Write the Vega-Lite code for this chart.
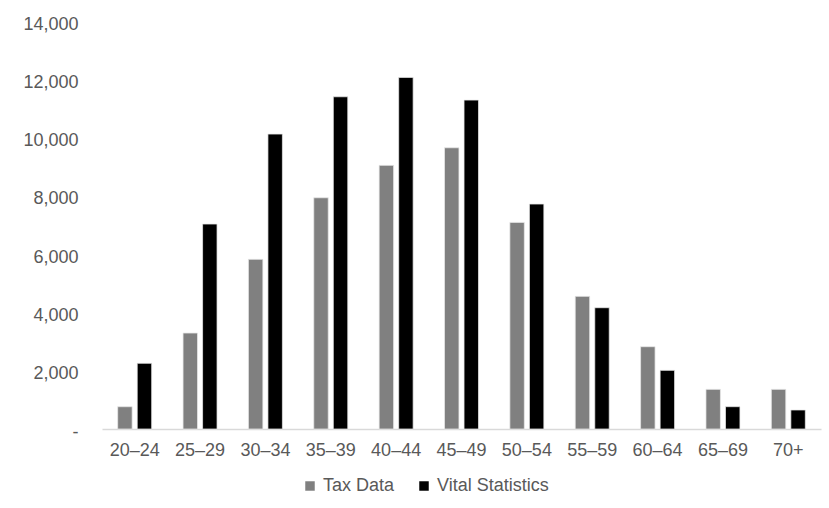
{
  "$schema": "https://vega.github.io/schema/vega-lite/v6.json",
  "width": 719,
  "height": 408,
  "autosize": {"type": "none"},
  "padding": {"left": 102, "top": 21, "right": 8, "bottom": 79},
  "background": "white",
  "config": {
    "view": {"stroke": null},
    "font": "Liberation Sans",
    "axis": {"labelFont": "Liberation Sans", "labelColor": "#595959", "labelFontSize": 18},
    "legend": {"labelFont": "Liberation Sans", "labelColor": "#595959", "labelFontSize": 18}
  },
  "data": {
    "values": [
      {"age": "20–24", "series": "Tax Data", "value": 765},
      {"age": "20–24", "series": "Vital Statistics", "value": 2254},
      {"age": "25–29", "series": "Tax Data", "value": 3293},
      {"age": "25–29", "series": "Vital Statistics", "value": 7033},
      {"age": "30–34", "series": "Tax Data", "value": 5822},
      {"age": "30–34", "series": "Vital Statistics", "value": 10120},
      {"age": "35–39", "series": "Tax Data", "value": 7935},
      {"age": "35–39", "series": "Vital Statistics", "value": 11400},
      {"age": "40–44", "series": "Tax Data", "value": 9046},
      {"age": "40–44", "series": "Vital Statistics", "value": 12065},
      {"age": "45–49", "series": "Tax Data", "value": 9650},
      {"age": "45–49", "series": "Vital Statistics", "value": 11286},
      {"age": "50–54", "series": "Tax Data", "value": 7090},
      {"age": "50–54", "series": "Vital Statistics", "value": 7719},
      {"age": "55–59", "series": "Tax Data", "value": 4551},
      {"age": "55–59", "series": "Vital Statistics", "value": 4162},
      {"age": "60–64", "series": "Tax Data", "value": 2824},
      {"age": "60–64", "series": "Vital Statistics", "value": 2013},
      {"age": "65–69", "series": "Tax Data", "value": 1361},
      {"age": "65–69", "series": "Vital Statistics", "value": 766},
      {"age": "70+", "series": "Tax Data", "value": 1361},
      {"age": "70+", "series": "Vital Statistics", "value": 652}
    ]
  },
  "mark": {"type": "bar", "stroke": "#e8e8e8", "strokeWidth": 0.75},
  "encoding": {
    "x": {
      "field": "age",
      "type": "nominal",
      "sort": null,
      "scale": {"paddingInner": 0.48, "paddingOuter": 0.24},
      "axis": {
        "title": null,
        "labelAngle": 0,
        "ticks": false,
        "domainColor": "#d9d9d9",
        "domainWidth": 1.5,
        "labelPadding": 12
      }
    },
    "xOffset": {
      "field": "series",
      "type": "nominal",
      "scale": {"paddingInner": 0.26, "paddingOuter": 0}
    },
    "y": {
      "field": "value",
      "type": "quantitative",
      "scale": {"domain": [0, 14000], "nice": false},
      "axis": {
        "title": null,
        "values": [0, 2000, 4000, 6000, 8000, 10000, 12000, 14000],
        "grid": false,
        "domain": false,
        "ticks": false,
        "labelPadding": 24,
        "labelOffset": 3,
        "labelExpr": "datum.value == 0 ? '-\u00a0\u00a0\u00a0' : format(datum.value, ',')"
      }
    },
    "color": {
      "field": "series",
      "type": "nominal",
      "scale": {"domain": ["Tax Data", "Vital Statistics"], "range": ["#808080", "#000000"]},
      "legend": {
        "title": null,
        "orient": "none",
        "direction": "horizontal",
        "legendX": 199,
        "legendY": 456,
        "symbolType": "square",
        "symbolSize": 90,
        "symbolStrokeWidth": 0,
        "labelOffset": 4,
        "columnPadding": 20
      }
    }
  }
}
